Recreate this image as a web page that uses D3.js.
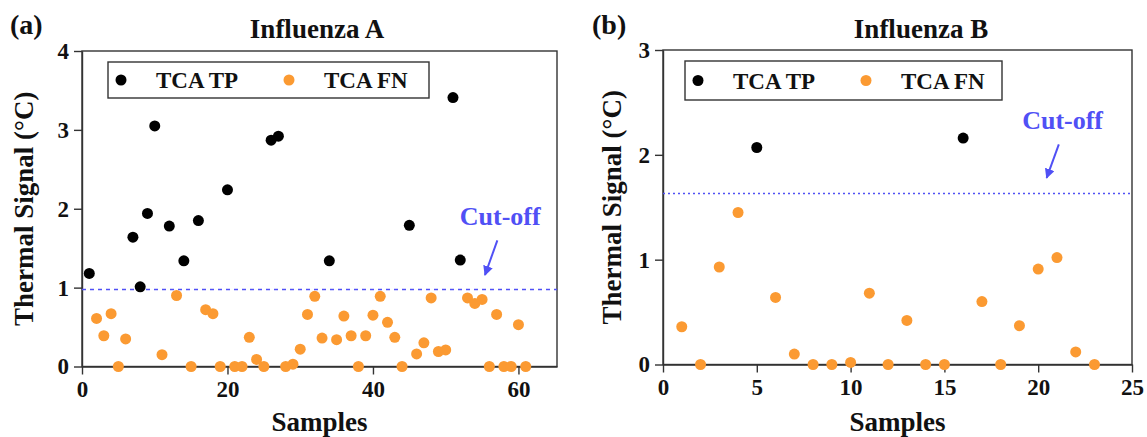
<!DOCTYPE html>
<html>
<head>
<meta charset="utf-8">
<script src="https://cdn.jsdelivr.net/npm/d3@7"></script>
<style>
  body { margin: 0; background: #fff; }
  svg { display: block; font-family: "Liberation Serif", "Times New Roman", serif; font-weight: bold; }
  .axis path, .axis line { stroke: #333; stroke-width: 1.4; }
  .axis text { font-family: "Liberation Serif", serif; font-weight: bold; font-size: 23px; fill: #111; }
</style>
</head>
<body>
<div id="chart"></div>
<script>
// ---- Influenza A ----
var aTpX = [1, 7, 8, 9, 10, 12, 14, 16, 20, 26, 27, 34, 45, 51, 52];
var aTpY = [1.18, 1.64, 1.01, 1.94, 3.05, 1.78, 1.34, 1.85, 2.24, 2.87, 2.92, 1.34, 1.79, 3.41, 1.35];
var aFnX = [2, 3, 4, 5, 6, 11, 13, 15, 17, 18, 19, 21, 22, 23, 24, 25, 28, 29, 30, 31, 32, 33,
            35, 36, 37, 38, 39, 40, 41, 42, 43, 44, 46, 47, 48, 49, 50, 53, 54, 55, 56, 57, 58, 59, 60, 61];
var aFnY = [0.61, 0.39, 0.67, 0, 0.35, 0.15, 0.90, 0, 0.72, 0.67, 0, 0, 0, 0.37, 0.09, 0, 0, 0.03, 0.22, 0.66, 0.89, 0.36,
            0.34, 0.64, 0.39, 0, 0.39, 0.65, 0.89, 0.56, 0.37, 0, 0.16, 0.30, 0.87, 0.19, 0.21, 0.87, 0.80, 0.85, 0, 0.66, 0, 0, 0.53, 0];
var aCutoff = 0.975;
var aXTicks = [0, 20, 40, 60];
var aYTicks = [0, 1, 2, 3, 4];

// ---- Influenza B ----
var bTpX = [5, 16];
var bTpY = [2.07, 2.16];
var bFnX = [1, 2, 3, 4, 6, 7, 8, 9, 10, 11, 12, 13, 14, 15, 17, 18, 19, 20, 21, 22, 23];
var bFnY = [0.36, 0, 0.93, 1.45, 0.64, 0.10, 0, 0, 0.02, 0.68, 0, 0.42, 0, 0, 0.60, 0, 0.37, 0.91, 1.02, 0.12, 0];
var bCutoff = 1.63;
var bXTicks = [0, 5, 10, 15, 20, 25];
var bYTicks = [0, 1, 2, 3];

var legendLabels = ["TCA TP", "TCA FN"];
var tpColor = "#000", fnColor = "#fb9a32", cutColor = "#5050f5";

var svg = d3.select("#chart").append("svg")
    .attr("width", 1147).attr("height", 437);

svg.append("defs").append("marker")
    .attr("id", "arrow").attr("viewBox", "0 0 10 10")
    .attr("refX", 9).attr("refY", 5)
    .attr("markerWidth", 5).attr("markerHeight", 5)
    .attr("orient", "auto")
  .append("path").attr("d", "M0,0L10,5L0,10z").attr("fill", cutColor);

function drawPanel(opt) {
  var w = opt.right - opt.left, h = opt.bottom - opt.top;
  var x = d3.scaleLinear().domain(opt.xDomain).range([0, w]);
  var y = d3.scaleLinear().domain(opt.yDomain).range([h, 0]);

  var g = svg.append("g").attr("transform", "translate(" + opt.left + "," + opt.top + ")");

  // frame
  g.append("rect").attr("width", w).attr("height", h)
    .attr("fill", "none").attr("stroke", "#333").attr("stroke-width", 1.4);

  g.append("g").attr("class", "axis")
    .attr("transform", "translate(0," + h + ")")
    .call(d3.axisBottom(x).tickValues(opt.xTicks).tickFormat(d3.format("d"))
      .tickSize(8).tickSizeOuter(0).tickPadding(6));

  g.append("g").attr("class", "axis")
    .call(d3.axisLeft(y).tickValues(opt.yTicks).tickFormat(d3.format("d"))
      .tickSize(8).tickSizeOuter(0).tickPadding(5));

  // cut-off line
  g.append("line")
    .attr("x1", 0).attr("x2", w)
    .attr("y1", y(opt.cutoff)).attr("y2", y(opt.cutoff))
    .attr("stroke", cutColor).attr("stroke-width", 1.5)
    .attr("stroke-dasharray", opt.dash);

  // points
  g.append("g").selectAll("circle").data(d3.zip(opt.fnX, opt.fnY)).enter().append("circle")
    .attr("cx", d => x(d[0])).attr("cy", d => y(d[1])).attr("r", 5.5).attr("fill", fnColor);
  g.append("g").selectAll("circle").data(d3.zip(opt.tpX, opt.tpY)).enter().append("circle")
    .attr("cx", d => x(d[0])).attr("cy", d => y(d[1])).attr("r", 5.5).attr("fill", tpColor);

  // cut-off annotation
  g.append("text").attr("x", x(opt.cutText[0])).attr("y", y(opt.cutText[1]))
    .attr("text-anchor", "middle").attr("font-size", 26).attr("fill", cutColor).text("Cut-off");
  g.append("line")
    .attr("x1", x(opt.arrow[0])).attr("y1", y(opt.arrow[1]))
    .attr("x2", x(opt.arrow[2])).attr("y2", y(opt.arrow[3]))
    .attr("stroke", cutColor).attr("stroke-width", 2).attr("marker-end", "url(#arrow)");

  // legend
  var lg = g.append("g").attr("transform", "translate(" + opt.legend[0] + "," + opt.legend[1] + ")");
  lg.append("rect").attr("width", opt.legend[2]).attr("height", opt.legend[3])
    .attr("fill", "#fff").attr("stroke", "#333").attr("stroke-width", 1.4);
  [tpColor, fnColor].forEach(function(c, i) {
    var ox = i * opt.legendStep;
    lg.append("circle").attr("cx", 13 + ox).attr("cy", opt.legend[3] / 2).attr("r", 5.5).attr("fill", c);
    lg.append("text").attr("x", 48 + ox).attr("y", opt.legend[3] / 2 + 8)
      .attr("font-size", 23).attr("fill", "#111").text(legendLabels[i]);
  });

  // titles and labels
  svg.append("text").attr("x", opt.tagX).attr("y", 34).attr("font-size", 28).attr("fill", "#111").text(opt.tag);
  svg.append("text").attr("x", opt.titleX).attr("y", 38).attr("text-anchor", "middle")
    .attr("font-size", 27).attr("fill", "#111").text(opt.title);
  svg.append("text").attr("x", opt.left + w / 2).attr("y", 431).attr("text-anchor", "middle")
    .attr("font-size", 27).attr("fill", "#111").text("Samples");
  svg.append("text")
    .attr("transform", "translate(" + opt.yLabelX + "," + (opt.top + h / 2) + ") rotate(-90)")
    .attr("text-anchor", "middle").attr("font-size", 27).attr("fill", "#111")
    .text("Thermal Signal (°C)");
}

drawPanel({
  left: 82, right: 557, top: 51, bottom: 366.5,
  xDomain: [0, 65.3], yDomain: [0, 4],
  xTicks: aXTicks, yTicks: aYTicks,
  tpX: aTpX, tpY: aTpY, fnX: aFnX, fnY: aFnY,
  cutoff: aCutoff, dash: "4,4",
  cutText: [57.5, 1.80], arrow: [57.1, 1.6, 55.4, 1.16],
  legend: [26, 11, 321, 36], legendStep: 168,
  tag: "(a)", tagX: 10, title: "Influenza A", titleX: 317, yLabelX: 33
});

drawPanel({
  left: 663, right: 1132, top: 50, bottom: 364.5,
  xDomain: [0, 25], yDomain: [0, 3],
  xTicks: bXTicks, yTicks: bYTicks,
  tpX: bTpX, tpY: bTpY, fnX: bFnX, fnY: bFnY,
  cutoff: bCutoff, dash: "2,3",
  cutText: [21.3, 2.25], arrow: [21.1, 2.1, 20.45, 1.78],
  legend: [22, 11, 317, 39], legendStep: 168,
  tag: "(b)", tagX: 592, title: "Influenza B", titleX: 921, yLabelX: 621
});
</script>
</body>
</html>
